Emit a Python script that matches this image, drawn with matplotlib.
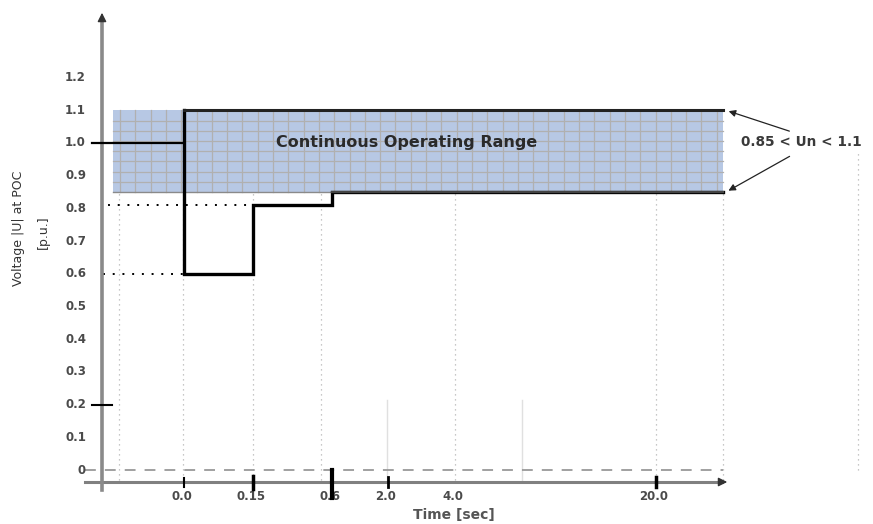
#!/usr/bin/env python3
"""Voltage ride-through profile at the POC with the continuous operating range."""

import matplotlib
matplotlib.use('Agg')
import matplotlib.pyplot as plt
import matplotlib.patches as patches
import numpy as np

# --- data ---------------------------------------------------------------
tick_times = [0.0, 0.15, 0.6, 2.0, 4.0, 20.0]
tick_labels = ['0.0', '0.15', '0.6', '2.0', '4.0', '20.0']
volt_ticks = [0, 0.1, 0.2, 0.3, 0.4, 0.5, 0.6, 0.7, 0.8, 0.9, 1.0, 1.1, 1.2]
volt_labels = ['0', '0.1', '0.2', '0.3', '0.4', '0.5', '0.6', '0.7', '0.8',
               '0.9', '1.0', '1.1', '1.2']

prefault_v = 1.0
fault_t = [0.0, 0.0, 0.15, 0.15, 0.6, 0.6]
fault_v = [1.1, 0.6, 0.6, 0.81, 0.81, 0.85]
band_low, band_high = 0.85, 1.1

# --- layout (horizontal positions on a non-linear time axis) -----------
tick_px = [184, 253, 332, 388, 455, 656]
axis_x = 102
band_left, band_right = 113, 723
grid_px = [119, 183, 253, 321, 455, 656, 723]


def tpos(t):
    return np.interp(t, tick_times, tick_px)


def v(y_px):
    # vertical pixel -> voltage (0 p.u. at y=470, 327 px per p.u.)
    return (470 - y_px) / 327.0


fig = plt.figure(figsize=(8.73, 5.24), dpi=100)
ax = fig.add_axes([0, 0, 1, 1])
ax.set_xlim(0, 873)
ax.set_ylim(v(524), v(0))
ax.axis('off')

font = ['DejaVu Sans']
lab_col = '#4a4a4a'

# dotted vertical guides
for gx in grid_px:
    ax.plot([gx, gx], [v(480), band_low], color='#b5b5b5', lw=0.9,
            linestyle=(0, (1, 3)), zorder=1)
ax.plot([858, 858], [v(470), v(150)], color='#b5b5b5', lw=0.9,
        linestyle=(0, (1, 3)), zorder=1)
for gx in [387, 522]:
    ax.plot([gx, gx], [v(480), v(400)], color='#e0e0e0', lw=1.0, zorder=1)

# continuous operating range (shaded, with a fine grid)
band = patches.Rectangle((band_left, band_low), band_right - band_left,
                         band_high - band_low, facecolor='#b7c8e4',
                         edgecolor='none', zorder=2)
ax.add_patch(band)
for gx in np.arange(band_left + 7, band_right, 15.3):
    ax.plot([gx, gx], [band_low, band_high], color='#b0b0b0', lw=0.9, zorder=3)
for gy in np.linspace(band_low, band_high, 9)[1:-1]:
    ax.plot([band_left, band_right], [gy, gy], color='#b0b0b0', lw=0.9, zorder=3)
ax.plot([band_left, tpos(0.6)], [band_low, band_low], color='#8a8a8a',
        lw=1.0, zorder=3)

# dotted reference levels
ax.plot([108, tpos(0.15)], [0.81, 0.81], color='black', lw=1.4,
        linestyle=(0, (1, 4)), zorder=4)
ax.plot([103, tpos(0.0)], [0.6, 0.6], color='black', lw=1.4,
        linestyle=(0, (1, 4)), zorder=4)

# zero line
ax.plot([85, band_right], [0, 0], color='#999999', lw=1.3,
        linestyle=(0, (6, 5)), zorder=2)

# voltage profile
ax.plot([92, tpos(0.0)], [prefault_v, prefault_v], color='black', lw=1.6,
        zorder=6)
prof_x = list(tpos(fault_t)) + [band_right]
prof_y = fault_v + [band_low]
ax.plot(prof_x, prof_y, color='black', lw=2.4, zorder=6,
        solid_joinstyle='miter')
ax.plot([tpos(0.0), band_right], [band_high, band_high], color='#222222',
        lw=2.2, zorder=6)
ax.plot([tpos(0.6), band_right], [band_low, band_low], color='#444444',
        lw=1.6, zorder=6)

# axes with arrows (grey shaft, dark head)
ax.plot([85, 722], [v(482), v(482)], color='#808080', lw=2.2, zorder=5)
ax.plot([axis_x, axis_x], [v(490), v(20)], color='#8a8a8a', lw=2.6, zorder=5)
ax.annotate('', xy=(730, v(482)), xytext=(716, v(482)),
            arrowprops=dict(arrowstyle='-|>', color='#333333', lw=1.0,
                            mutation_scale=13), zorder=6)
ax.annotate('', xy=(axis_x, v(10)), xytext=(axis_x, v(24)),
            arrowprops=dict(arrowstyle='-|>', color='#333333', lw=1.0,
                            mutation_scale=13), zorder=6)

# y ticks
for val, lab in zip(volt_ticks, volt_labels):
    ax.text(86, val, lab, ha='right', va='center', fontsize=8.5,
            fontweight='bold', color=lab_col, family=font)
ax.plot([92, 112], [0.2, 0.2], color='black', lw=1.5, zorder=6)

# x ticks
tick_len = [(478, 487, 1.5), (476, 489, 2.5), (470, 498, 3.0),
            (477, 487, 2.0), None, (477, 487, 2.5)]
for t, lab, tl in zip(tick_times, tick_labels, tick_len):
    if tl is not None:
        ax.plot([tpos(t), tpos(t)], [v(tl[0]), v(tl[1])], color='black',
                lw=tl[2], zorder=7)
    ax.text(tpos(t) - 2, v(497), lab, ha='center', va='center', fontsize=8.5,
            fontweight='bold', color=lab_col, family=font)

# labels
ax.text(454, v(515), 'Time [sec]', ha='center', va='center', fontsize=10,
        fontweight='bold', color='#555555', family=font)
ax.text(19, v(228), 'Voltage |U| at POC', rotation=90, ha='center',
        va='center', fontsize=9, color='#333333', family=font)
ax.text(43, v(232), '[p.u.]', rotation=90, ha='center', va='center',
        fontsize=9, color='#333333', family=font)

ax.text(407, 1.0, 'Continuous Operating Range', ha='center', va='center',
        fontsize=11.5, fontweight='bold', color='#2a2a2a', family=font, zorder=8)
ax.text(741, v(142), '0.85 < Un < 1.1', ha='left', va='center', fontsize=9.8,
        fontweight='bold', color='#3a3a3a', family=font)
for y_end, y_start in [(band_high, v(132)), (band_low, v(155))]:
    ax.annotate('', xy=(726, y_end), xytext=(792, y_start),
                arrowprops=dict(arrowstyle='-|>', color='#222222', lw=0.9,
                                mutation_scale=10), zorder=8)

fig.savefig('out.png', dpi=100)
